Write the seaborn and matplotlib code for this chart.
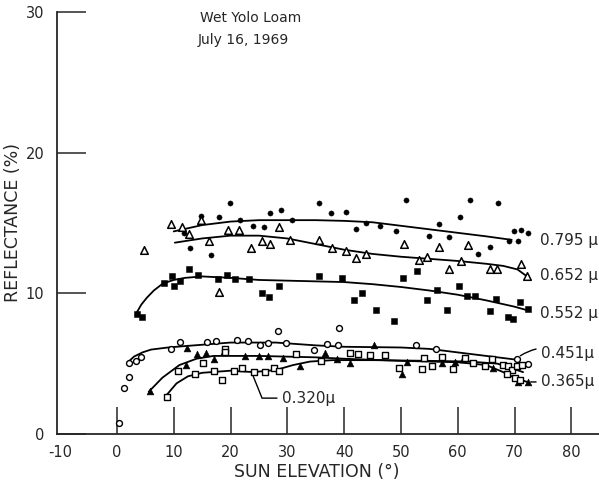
import numpy as np
import seaborn as sns
import matplotlib
matplotlib.use("Agg")
import matplotlib.pyplot as plt

# ---- data ----
# 0.795 micron (filled dots)
x795 = [11.8, 12.9, 14.8, 16.5, 18.0, 19.9, 21.7, 24.0, 25.9, 26.9, 28.9, 30.8, 35.6, 37.7,
        40.3, 42.1, 43.8, 46.3, 49.1, 50.9, 54.9, 56.7, 58.5, 60.4, 62.1, 63.6, 65.7, 67.1,
        69.0, 69.9, 70.6, 71.1, 72.4]
y795 = [14.3, 13.2, 15.5, 12.7, 15.4, 16.4, 15.2, 14.8, 14.7, 15.7, 15.9, 15.2, 16.4, 15.7,
        15.8, 14.6, 15.0, 14.8, 14.4, 16.6, 14.1, 14.9, 14.0, 15.4, 16.6, 12.8, 13.3, 16.4,
        13.7, 14.4, 13.7, 14.5, 14.3]
cx795 = [10, 15, 20, 25, 30, 35, 40, 45, 50, 55, 60, 65, 69.5]
cy795 = [14.4, 14.85, 15.1, 15.2, 15.2, 15.2, 15.15, 15.05, 14.8, 14.55, 14.3, 14.05, 13.8]

# 0.652 micron (open triangles)
x652 = [4.8, 9.5, 11.4, 12.7, 14.8, 16.2, 18.0, 19.5, 21.5, 23.6, 25.5, 26.9, 28.5, 30.5,
        35.6, 37.9, 40.3, 42.1, 43.8, 50.5, 53.2, 54.6, 56.7, 58.5, 60.6, 61.8, 65.7, 66.9,
        71.1, 72.2]
y652 = [13.1, 14.9, 14.7, 14.2, 15.2, 13.7, 10.1, 14.5, 14.5, 13.2, 13.7, 13.5, 14.7, 13.8,
        13.8, 13.2, 13.0, 12.5, 12.8, 13.5, 12.4, 12.6, 13.3, 11.7, 12.3, 13.4, 11.7, 11.7,
        12.1, 11.2]
cx652 = [10.2, 15, 20, 25, 30, 35, 40, 45, 50, 55, 60, 65, 68, 70.5, 72.2]
cy652 = [13.6, 13.9, 14.1, 14.1, 13.9, 13.5, 13.1, 12.8, 12.6, 12.45, 12.3, 12.1, 11.95, 11.7, 11.2]

# 0.552 micron (filled squares)
x552 = [3.5, 4.4, 8.3, 9.7, 10.0, 11.1, 12.7, 14.3, 17.8, 19.4, 20.8, 23.2, 25.5, 26.8,
        28.5, 35.6, 39.6, 41.7, 43.1, 45.6, 48.8, 50.4, 52.8, 54.6, 56.3, 58.1, 60.2, 61.6,
        63.0, 65.7, 66.7, 68.8, 69.7, 71.0, 72.4]
y552 = [8.5, 8.3, 10.7, 11.2, 10.5, 10.9, 11.7, 11.3, 11.0, 11.3, 11.0, 11.0, 10.0, 9.75,
        10.5, 11.2, 11.1, 9.5, 10.0, 8.8, 8.0, 11.1, 11.6, 9.5, 10.25, 8.8, 10.5, 9.8,
        9.8, 8.75, 9.6, 8.3, 8.2, 9.4, 8.9]
cx552 = [3.3, 4.3, 5.3, 6.5, 8.1, 10, 12, 15, 20, 25, 30, 35, 40, 45, 50, 55, 60, 65, 70, 72.2]
cy552 = [8.5, 9.2, 9.7, 10.2, 10.7, 10.95, 11.1, 11.2, 11.1, 10.95, 10.9, 10.85, 10.8, 10.65,
         10.45, 10.2, 9.9, 9.5, 9.05, 8.8]

# 0.451 micron (open circles)
x451 = [0.35, 1.2, 2.1, 2.1, 3.3, 4.2, 9.5, 11.1, 15.8, 17.4, 21.1, 23.1, 25.2, 26.6,
        28.3, 29.8, 34.7, 37.0, 38.9, 39.1, 52.6, 56.2, 70.4, 72.4]
y451 = [0.8, 3.3, 4.05, 5.05, 5.2, 5.5, 6.05, 6.55, 6.55, 6.6, 6.7, 6.6, 6.35, 6.5,
        7.3, 6.5, 6.0, 6.4, 6.3, 7.5, 6.3, 6.05, 5.3, 5.0]
cx451 = [1.8, 3, 4.5, 6, 9, 12, 20, 28, 35, 40, 50, 55, 60, 65, 70]
cy451 = [5.05, 5.5, 5.8, 6.0, 6.15, 6.25, 6.5, 6.5, 6.3, 6.2, 6.15, 6.05, 5.8, 5.55, 5.3]

# 0.365 micron (filled triangles)
x365 = [5.8, 12.1, 12.3, 14.1, 15.7, 17.1, 18.8, 22.5, 25.0, 26.6, 29.2, 32.2, 36.6, 38.7,
        41.0, 45.2, 50.2, 51.0, 57.2, 59.5, 60.9, 66.2, 70.6, 72.4]
y365 = [3.05, 4.9, 6.1, 5.7, 5.75, 5.3, 5.9, 5.55, 5.55, 5.55, 5.4, 4.85, 5.75, 5.3,
        5.05, 6.35, 4.3, 5.1, 5.05, 5.1, 5.3, 4.7, 3.7, 3.7]
cx365 = [5.6, 8, 11, 14, 17, 25, 30, 35, 40, 50, 60, 65, 68, 70, 72.2]
cy365 = [3.0, 4.0, 4.9, 5.35, 5.55, 5.55, 5.5, 5.45, 5.35, 5.2, 5.1, 4.9, 4.4, 4.0, 3.7]

# 0.320 micron (open squares)
x320 = [8.8, 10.7, 13.7, 15.1, 17.1, 18.5, 19.0, 19.0, 20.6, 22.0, 24.1, 26.1, 27.6, 28.5,
        31.5, 35.9, 41.0, 42.4, 44.5, 47.2, 49.6, 53.7, 54.0, 55.5, 57.2, 59.2, 61.3, 62.7,
        64.8, 66.0, 68.0, 68.8, 69.5, 70.4, 71.3, 68.7, 70.1, 70.9]
y320 = [2.65, 4.5, 4.3, 5.05, 4.5, 3.85, 6.05, 5.8, 4.5, 4.7, 4.4, 4.4, 4.7, 4.5,
        5.7, 5.2, 5.75, 5.7, 5.6, 5.6, 4.7, 4.6, 5.4, 4.8, 5.5, 4.6, 5.4, 5.05,
        4.8, 5.3, 4.9, 4.8, 4.55, 4.8, 4.9, 4.3, 4.0, 3.85]
cx320 = [8.6, 10.5, 12.5, 15, 20, 24, 28, 31, 34, 38, 45, 55, 62, 67, 70, 71.5]
cy320 = [2.7, 3.6, 4.1, 4.35, 4.5, 4.4, 4.55, 4.9, 5.15, 5.25, 5.25, 5.2, 5.15, 5.0, 4.6, 4.4]

wavelengths = ["0.795", "0.652", "0.552", "0.451", "0.365", "0.320"]

sns.set_style("ticks")
plt.rcParams["font.family"] = ["DejaVu Sans"]

fig = plt.figure(figsize=(5.99, 4.84), dpi=100)
ax = fig.add_axes([0.095, 0.1033, 0.905, 0.872])

# fitted curves
for cx, cy in [(cx795, cy795), (cx652, cy652), (cx552, cy552),
               (cx451, cy451), (cx365, cy365), (cx320, cy320)]:
    sns.lineplot(x=cx, y=cy, ax=ax, color="black", linewidth=1.3, sort=False)

# measured points
sns.scatterplot(x=x795, y=y795, ax=ax, marker="o", s=14, color="black", edgecolor="black", zorder=3)
sns.scatterplot(x=x652, y=y652, ax=ax, marker="^", s=30, facecolor="white", edgecolor="black",
                linewidth=1.1, zorder=3)
sns.scatterplot(x=x552, y=y552, ax=ax, marker="s", s=22, color="black", edgecolor="black", zorder=3)
sns.scatterplot(x=x451, y=y451, ax=ax, marker="o", s=18, facecolor="white", edgecolor="black",
                linewidth=1.0, zorder=3)
sns.scatterplot(x=x365, y=y365, ax=ax, marker="^", s=24, color="black", edgecolor="black", zorder=3)
sns.scatterplot(x=x320, y=y320, ax=ax, marker="s", s=18, facecolor="white", edgecolor="black",
                linewidth=1.0, zorder=3)

ax.set_xlim(-10.56, 84.86)
ax.set_ylim(0, 30)
ax.set_xticks([0, 10, 20, 30, 40, 50, 60, 70, 80])
ax.set_yticks([0, 10, 20, 30])
ax.set_xticks([-10], minor=True)
ax.set_xticklabels(["0", "10", "20", "30", "40", "50", "60", "70", "80"], fontsize=10.5)
ax.set_xticklabels(["-10"], minor=True, fontsize=10.5)
ax.set_yticklabels(["0", "10", "20", "30"], fontsize=10.5)
ax.tick_params(axis="x", which="major", direction="in", length=19.5, width=1.1, pad=8)
ax.tick_params(axis="x", which="minor", direction="in", length=0, pad=8)
ax.tick_params(axis="y", direction="in", length=21, width=1.1, pad=9)
sns.despine(ax=ax)
for side in ["left", "bottom"]:
    ax.spines[side].set_linewidth(1.3)

ax.set_xlabel("SUN ELEVATION (°)", fontsize=12.5)
ax.xaxis.set_label_coords(0.48, -0.068)
ax.set_ylabel("REFLECTANCE (%)", fontsize=12.5)
ax.yaxis.set_label_coords(-0.064, 0.5)

ax.text(14.6, 29.6, "Wet Yolo Loam", fontsize=10, va="center", ha="left")
ax.text(14.3, 28.0, "July 16, 1969", fontsize=10, va="center", ha="left")

# curve labels
ax.text(74.5, 13.75, wavelengths[0] + " μ", fontsize=11, va="center")
ax.text(74.5, 11.3, wavelengths[1] + " μ", fontsize=11, va="center")
ax.text(74.5, 8.55, wavelengths[2] + " μ", fontsize=11, va="center")
ax.annotate(wavelengths[3] + "μ", xy=(70.6, 5.45), xytext=(74.6, 5.7), fontsize=11, va="center",
            arrowprops=dict(arrowstyle="-", color="black", lw=1, connectionstyle="arc3,rad=0.3",
                            shrinkA=1, shrinkB=2))
ax.annotate(wavelengths[4] + "μ", xy=(72.6, 3.7), xytext=(74.6, 3.7), fontsize=11, va="center",
            arrowprops=dict(arrowstyle="-", color="black", lw=1, shrinkA=1, shrinkB=1))
ax.annotate(wavelengths[5] + "μ", xy=(23.8, 4.3), xytext=(29.0, 2.55), fontsize=11, va="center",
            arrowprops=dict(arrowstyle="-", color="black", lw=1,
                            connectionstyle="angle,angleA=0,angleB=-68,rad=0",
                            shrinkA=1, shrinkB=2))

fig.savefig("out.png", dpi=100)
